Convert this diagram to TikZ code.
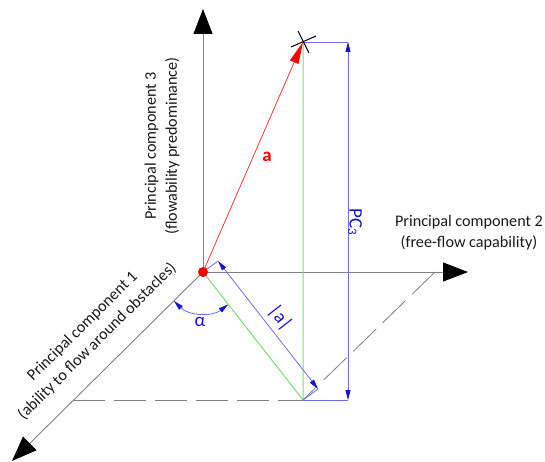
\documentclass[tikz,border=0pt]{standalone}
\usepackage{fontspec}
\setmainfont{Carlito}
\usetikzlibrary{arrows.meta}
\definecolor{axisgray}{RGB}{128,128,128}
\definecolor{redline}{RGB}{255,50,50}
\definecolor{greenline}{RGB}{120,220,120}
\definecolor{blueline}{RGB}{110,110,235}
\definecolor{bluedark}{RGB}{20,20,210}
\definecolor{textdark}{RGB}{25,25,25}
\begin{document}
\begin{tikzpicture}[x=1pt,y=-1pt,
  axis/.style={draw=axisgray, line width=0.9pt},
  bigtip/.style={-{Triangle[length=25,width=19,color=black]}},
  dashline/.style={draw=axisgray, line width=0.8pt, dash pattern=on 32 off 9},
  dimline/.style={draw=blueline, line width=0.8pt},
  dimtips/.style={{Triangle[length=10,width=5,color=bluedark]}-{Triangle[length=10,width=5,color=bluedark]}},
  lbl/.style={font=\fontsize{16.2}{21}\selectfont, text=textdark, align=center, inner sep=0pt},
  bluelbl/.style={font=\fontsize{19}{20}\selectfont, text=bluedark, inner sep=0pt}]
\useasboundingbox (0,0) rectangle (545,462);
% points
\coordinate (O) at (203,272);
\coordinate (A) at (303,42);
\coordinate (P) at (303,400);
\coordinate (Q) at (73,400);
\coordinate (R) at (435,272);
\coordinate (top) at (203,9);
\coordinate (right) at (468,272);
\coordinate (bl) at (12,461);
\coordinate (D1) at (348,42);
\coordinate (D2) at (348,400);
\coordinate (E1) at (218,261);
\coordinate (E2) at (318,389);
% axes
\draw[axis, bigtip] (O) -- (top);
\draw[axis, bigtip] (O) -- (right);
\draw[axis, bigtip] (O) -- (bl);
% parallelogram
\draw[dashline] (Q) -- (P);
\draw[dashline] (R) -- (P);
% green projections
\draw[draw=greenline, line width=1pt] (O) -- (P) -- (A);
% PC3 dimension
\draw[dimline] (A) -- (D1);
\draw[dimline] (P) -- (D2);
\draw[dimline, dimtips] (D1) -- (D2);
% |a| dimension
\draw[dimline] (O) -- (E1);
\draw[dimline] (P) -- (E2);
\draw[dimline, dimtips] (E1) -- (E2);
% alpha arc
\draw[dimline, dimtips] ([shift={(135.3:41)}]O) arc[start angle=135.3, end angle=52, radius=41];
% vector a
\draw[draw=redline, line width=0.8pt, -{Triangle[length=22,width=9,color=red]}] (O) -- (A);
% cross at A
\draw[black, line width=1pt] (A) ++(-12,5) -- ++(25,-11);
\draw[black, line width=1pt] (A) ++(-5,-11) -- ++(11,22);
% origin dot
\fill[red] (O) circle[radius=5];
% labels
\node[lbl, rotate=90] (l3) at (162,146) {Principal component 3\\(flowability predominance)};
\node[lbl] (l2) at (469,233) {Principal component 2\\(free-flow capability)};
\node[lbl, rotate=44.7] (l1) at (90,334) {Principal component 1\\(ability to flow around obstacles)};
\node[font=\fontsize{19}{19}\selectfont\bfseries, text=red, inner sep=0pt] (la) at (267,157) {a};
\node[bluelbl] (lalpha) at (200,322) {α};
\node[bluelbl, rotate=-52] (labs) at (280,318) {|a|};
\node[bluelbl, rotate=-90] (lpc) at (355,222) {PC\raisebox{-1.5pt}{\fontsize{13}{13}\selectfont 3}};
\end{tikzpicture}
\end{document}
